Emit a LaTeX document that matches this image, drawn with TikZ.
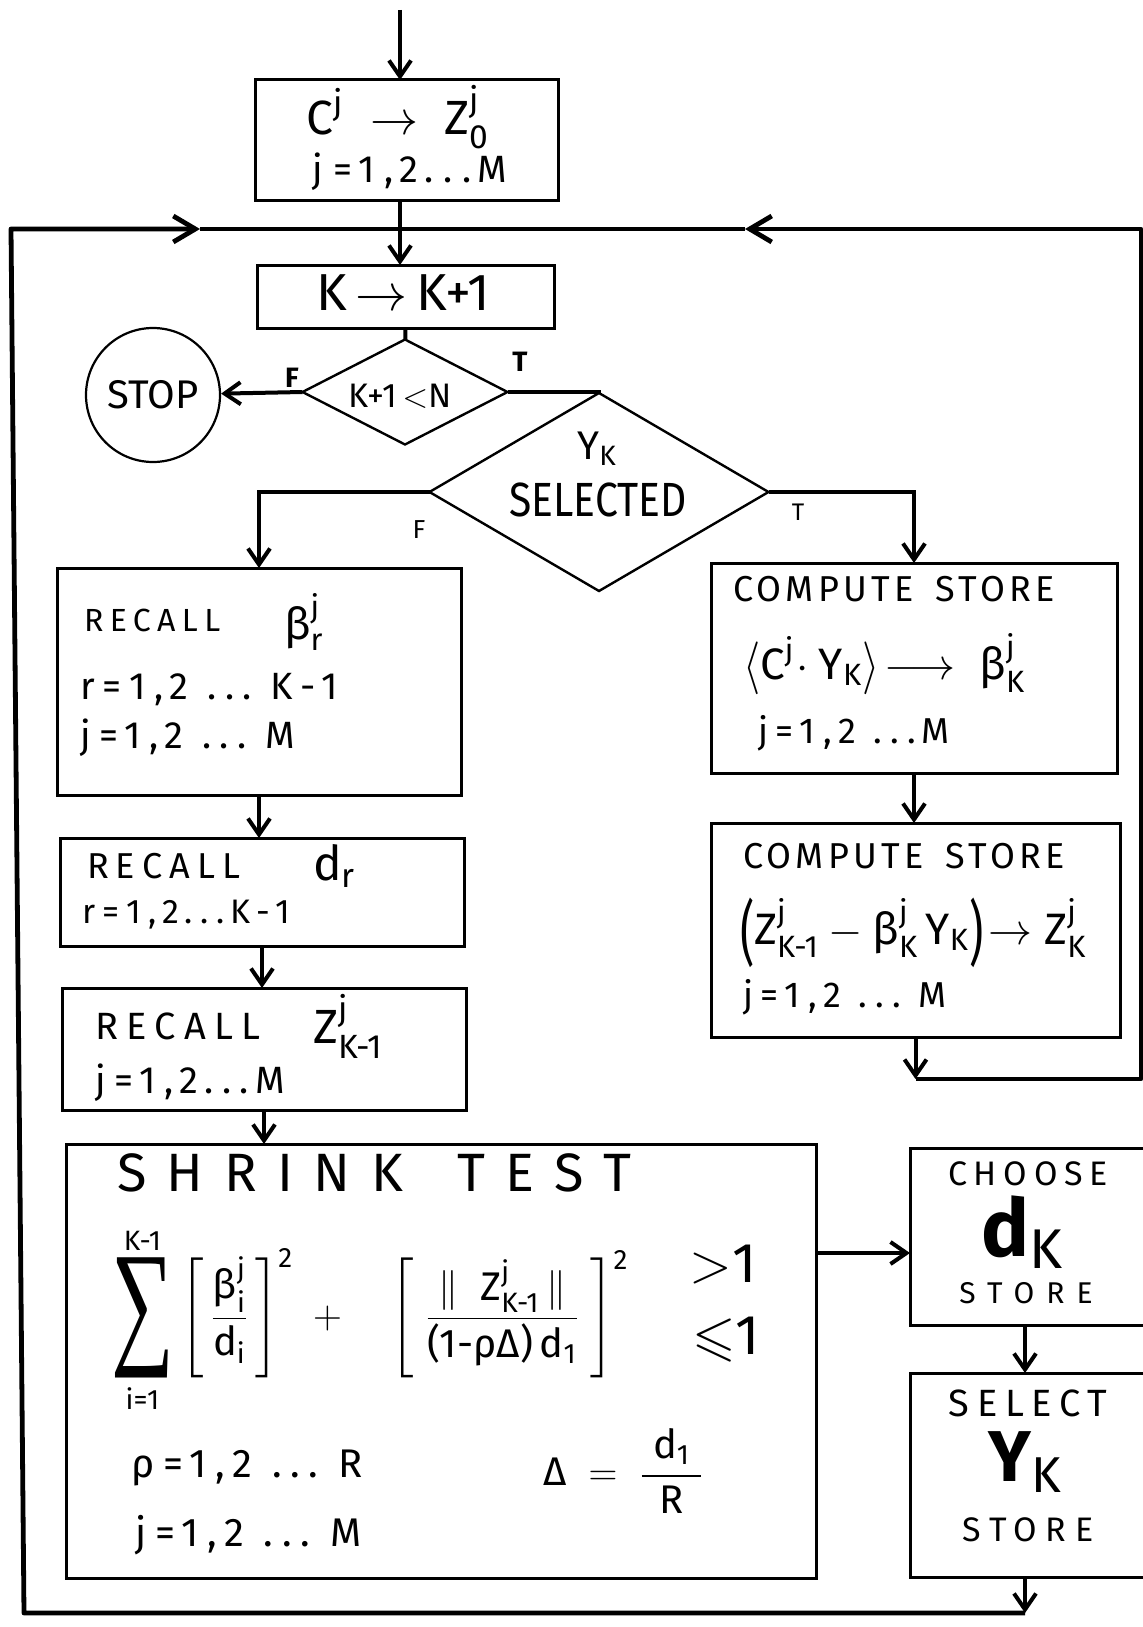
\RequirePackage{fix-cm}
\documentclass[tikz,border=0pt]{standalone}
\usepackage{amsmath,amssymb}
\usepackage{graphicx}
\usepackage{fontspec}
\setmainfont{Fira Sans}
\newfontfamily\sumfont{Liberation Serif}
\usetikzlibrary{arrows.meta,shapes.geometric,fit}
\begin{document}
\begin{tikzpicture}[x=.5pt,y=-.5pt,
  box/.style={draw,rectangle,line width=1.5pt,inner sep=0pt,outer sep=0pt},
  dia/.style={draw,diamond,line width=1.2pt,inner sep=0pt,outer sep=0pt},
  lbl/.style={inner sep=0pt,outer sep=0pt},
  wire/.style={line width=2pt},
  flow/.style={line width=2pt,-{Straight Barb[length=8pt,width=11pt]}},
  loopline/.style={line width=2.4pt,line join=round},
  looparrow/.style={loopline,-{Straight Barb[length=11pt,width=13pt]}}]
\path[use as bounding box] (0,0) rectangle (1143,1627);
\path[fill=white,draw=none] (0,0) rectangle (1143,1627);
\coordinate (entry) at (400,10);
\coordinate (join) at (400,229);
\coordinate (loopNW) at (11,229);
\coordinate (loopSW) at (24,1613);
\coordinate (loopS) at (1025,1613);
\coordinate (loopNE) at (1141,229);
\coordinate (loopE) at (1141,1079);
\coordinate (backZ) at (915.5,1079);
\coordinate (tipL) at (200,229);
\coordinate (tipR) at (745,229);
\coordinate (chooseIn) at (910,1253);
\node[box,fit={(255,80) (558,200)}] (init) {};
\node[box,fit={(257,265) (554,328)}] (incr) {};
\node[dia,minimum width=102.5pt,minimum height=52.5pt] (test) at (405,392) {};
\node[draw,circle,line width=1.1pt,minimum size=67pt,inner sep=0pt,font=\fontsize{20}{24}\selectfont] (stop) at (153,395) {STOP};
\node[dia,minimum width=169.5pt,minimum height=99pt] (sel) at (599,492) {};
\node[box,fit={(57,568) (461,795)}] (recb) {};
\node[box,fit={(711,563) (1117,773)}] (cbeta) {};
\node[box,fit={(60,838) (464,946)}] (recd) {};
\node[box,fit={(711,823) (1120,1037)}] (cz) {};
\node[box,fit={(62,988) (466,1110)}] (recz) {};
\node[box,fit={(66,1144) (816,1578)}] (shrink) {};
\node[box,fit={(910,1148) (1160,1325)}] (choose) {};
\node[box,fit={(910,1373) (1160,1577)}] (select) {};
\node[lbl,font=\fontsize{24}{28}\selectfont] (initeq) at (398,117) {$\text{C}^{\text{j}}\;\rightarrow\;\text{Z}^{\text{j}}_{\text{0}}$};
\node[lbl,font=\fontsize{19}{23}\selectfont\addfontfeature{LetterSpace=25}] (initrange) at (410,172) {j=\,1,\,2\,...\,M};
\node[lbl,font=\fontsize{26}{30}\selectfont] (incrtxt) at (403,293) {K\,$\rightarrow$\,K+1};
\node[lbl,font=\fontsize{17}{20}\selectfont] (testtxt) at (400,396) {K+1\,$<$N};
\node[lbl,font=\bfseries\fontsize{14}{17}\selectfont] (testF) at (292,378) {F};
\node[lbl,font=\bfseries\fontsize{14}{17}\selectfont] (testT) at (520,362) {T};
\node[lbl,font=\fontsize{20}{24}\selectfont] (selY) at (597,449) {$\text{Y}_{\text{K}}$};
\node[lbl,font=\fontsize{24}{28}\selectfont] (seltxt) at (598,500) {\scalebox{0.85}[1]{SELECTED}};
\node[lbl,font=\fontsize{13}{16}\selectfont] (selF) at (419,530) {F};
\node[lbl,font=\fontsize{12}{14}\selectfont] (selT) at (798,512) {T};
\node[lbl,anchor=west,font=\fontsize{16}{19}\selectfont\addfontfeature{LetterSpace=20}] (recbtxt) at (84,620) {RECALL};
\node[lbl,anchor=west,font=\fontsize{22}{26}\selectfont] (recbeta) at (284,622) {$\text{β}^{\text{j}}_{\text{r}}$};
\node[lbl,anchor=west,font=\fontsize{19}{23}\selectfont\addfontfeature{LetterSpace=22}] (recbr) at (80,690) {r=1,\,2\enspace...\enspace K-1};
\node[lbl,anchor=west,font=\fontsize{19}{23}\selectfont\addfontfeature{LetterSpace=22}] (recbj) at (80,738) {j=\,1,\,2\enspace...\enspace M};
\node[lbl,anchor=west,font=\fontsize{18}{22}\selectfont\addfontfeature{LetterSpace=12}] (cbetatxt) at (733,589) {COMPUTE\hspace{.6em}STORE};
\node[lbl,anchor=west,font=\fontsize{22}{26}\selectfont] (cbetaeq) at (743,664) {$\vcenter{\hbox{\scalebox{1}[1.2]{$\langle$}}}\text{C}^{\text{j}}\!\cdot\text{Y}_{\text{K}}\vcenter{\hbox{\scalebox{1}[1.2]{$\rangle$}}}\!\longrightarrow\;\text{β}^{\text{j}}_{\text{K}}$};
\node[lbl,anchor=west,font=\fontsize{18}{22}\selectfont\addfontfeature{LetterSpace=22}] (cbetaj) at (758,733) {j=\,1,\,2\enspace...\,M};
\node[lbl,anchor=west,font=\fontsize{18}{22}\selectfont\addfontfeature{LetterSpace=20}] (recdtxt) at (87,866) {RECALL};
\node[lbl,anchor=west,font=\fontsize{24}{28}\selectfont] (recdd) at (313,866) {$\text{d}_{\text{r}}$};
\node[lbl,anchor=west,font=\fontsize{17}{20}\selectfont\addfontfeature{LetterSpace=22}] (recdr) at (82,915) {r=1,\,2\,...\,K-1};
\node[lbl,anchor=west,font=\fontsize{19}{23}\selectfont\addfontfeature{LetterSpace=22}] (recztxt) at (95,1026) {RECALL};
\node[lbl,anchor=west,font=\fontsize{24}{28}\selectfont] (reczz) at (313,1026) {$\text{Z}^{\text{j}}_{\text{K-1}}$};
\node[lbl,anchor=west,font=\fontsize{19}{23}\selectfont\addfontfeature{LetterSpace=22}] (reczj) at (95,1083) {j=\,1,\,2\,...\,M};
\node[lbl,anchor=west,font=\fontsize{18}{22}\selectfont\addfontfeature{LetterSpace=12}] (cztxt) at (743,856) {COMPUTE\hspace{.6em}STORE};
\node[lbl,anchor=west,font=\fontsize{22}{26}\selectfont] (czeq) at (740,933) {$\vcenter{\hbox{\scalebox{1}[1.6]{(}}}\text{Z}^{\text{j}}_{\text{K-1}}-\text{β}^{\text{j}}_{\text{K}}\,\text{Y}_{\text{K}}\vcenter{\hbox{\scalebox{1}[1.6]{)}}}\!\rightarrow\text{Z}^{\text{j}}_{\text{K}}$};
\node[lbl,anchor=west,font=\fontsize{18}{22}\selectfont\addfontfeature{LetterSpace=22}] (czj) at (743,997) {j=\,1,\,2\enspace...\enspace M};
\node[lbl,anchor=west,font=\fontsize{27}{32}\selectfont\addfontfeature{LetterSpace=38}] (shrinktxt) at (117,1173) {SHRINK\hspace{1em}TEST};
\node[lbl,anchor=west,font=\fontsize{20}{24}\selectfont] (shrinkeq) at (111,1320) {$\displaystyle\mathop{\vcenter{\hbox{\scalebox{1.05}[1.65]{\sumfont\fontsize{42}{42}\selectfont ∑}}}}\limits_{\rule{0pt}{12pt}\text{i=1}}^{\text{K-1}}\left[\,\frac{\text{β}^{\text{j}}_{\text{i}}}{\text{d}_{\text{i}}}\,\right]^{\text{2}}\;+\quad\left[\;\frac{\|\;\;\text{Z}^{\text{j}}_{\text{K-1}}\,\|}{\text{(1-ρΔ)}\,\text{d}_{\text{1}}}\;\right]^{\text{2}}$};
\node[lbl,font=\fontsize{28}{32}\selectfont] (shrinkgt) at (723,1264) {$>$1};
\node[lbl,font=\fontsize{28}{32}\selectfont] (shrinkle) at (726,1340) {$\leqslant$1};
\node[lbl,anchor=west,font=\fontsize{20}{24}\selectfont\addfontfeature{LetterSpace=22}] (shrinkp) at (131,1468) {ρ=\,1,\,2\enspace...\enspace R};
\node[lbl,anchor=west,font=\fontsize{20}{24}\selectfont] (shrinkd) at (543,1471) {$\text{Δ}\;=\;\dfrac{\;\text{d}_{\text{1}}\;}{\text{R}}$};
\node[lbl,anchor=west,font=\fontsize{20}{24}\selectfont\addfontfeature{LetterSpace=22}] (shrinkj) at (135,1535) {j=\,1,\,2\enspace...\enspace M};
\node[lbl,font=\fontsize{17}{20}\selectfont\addfontfeature{LetterSpace=20}] (choosetxt) at (1028,1174) {CHOOSE};
\node[lbl,font=\fontsize{40}{44}\selectfont] (chooseD) at (1022,1232) {\bfseries d$_{\text{\mdseries K}}$};
\node[lbl,font=\fontsize{15}{18}\selectfont\addfontfeature{LetterSpace=40}] (choosest) at (1026,1293) {STORE};
\node[lbl,font=\fontsize{19}{23}\selectfont\addfontfeature{LetterSpace=20}] (selecttxt) at (1028,1403) {SELECT};
\node[lbl,font=\fontsize{36}{40}\selectfont] (selectY) at (1025,1462) {\bfseries Y$_{\text{\mdseries K}}$};
\node[lbl,font=\fontsize{17}{20}\selectfont\addfontfeature{LetterSpace=25}] (selectst) at (1028,1530) {STORE};
\draw[flow] (entry) -- (entry |- init.north);
\draw[flow] (init.south -| join) -- (incr.north -| join);
\draw[wire] (incr) -- (test);
\draw[flow] (test.west) -- (stop);
\draw[wire] (test.east) -| (sel.north);
\draw[flow] (sel.west) -| (recb.north);
\draw[flow] (sel.east) -| (cbeta.north);
\draw[flow] (recb.south) -- (recb.south |- recd.north);
\draw[flow] (recd.south) -- (recd.south |- recz.north);
\draw[flow] (recz.south) -- (recz.south |- shrink.north);
\draw[flow] (cbeta.south) -- (cbeta.south |- cz.north);
\draw[flow] (cz.south) -- (backZ);
\draw[flow] (shrink.east |- chooseIn) -- (chooseIn);
\draw[flow] (choose.south -| loopS) -- (select.north -| loopS);
\draw[flow] (select.south -| loopS) -- (loopS);
\draw[looparrow] (loopS) -- (loopSW) -- (loopNW) -- (tipL);
\draw[loopline] (tipL) -- (join);
\draw[looparrow] (backZ) -- (loopE) -- (loopNE) -- (tipR);
\draw[loopline] (tipR) -- (join);
\end{tikzpicture}
\end{document}
